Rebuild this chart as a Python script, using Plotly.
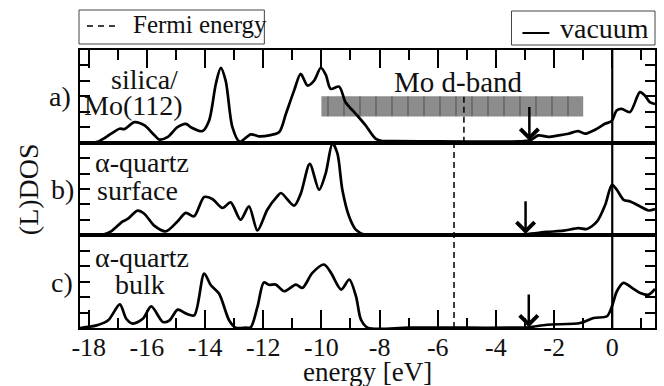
import plotly.graph_objects as go

# ---------------- data ----------------
energy_a = [-18.3, -17.9, -17.7, -17.45, -17.23, -16.94, -16.77, -16.43, -16.08, -15.8, -15.57, -15.28,
            -14.95, -14.66, -14.49, -14.09, -13.86, -13.63, -13.46, -13.29, -13.06, -12.81, -12.43,
            -12.15, -11.8, -11.45, -11.22, -10.94, -10.71, -10.48, -10.25, -10.02, -9.85, -9.68, -9.39,
            -9.17, -8.82, -8.48, -8.14, -7.91, -7.5, -6.0, -4.0, -3.2, -2.82, -2.54, -2.19, -1.85,
            -1.51, -1.17, -0.94, -0.59, -0.25, -0.02, 0.15, 0.32, 0.61, 0.95, 1.12, 1.29, 1.47]
dos_a = [0.0, 0.0, 0.05, 0.3, 0.58, 0.9, 0.88, 1.33, 1.12, 0.6, 0.2, 0.37,
         1.0, 1.22, 1.0, 0.75, 1.44, 3.8, 4.84, 4.0, 1.0, 0.05, 0.54,
         0.41, 0.47, 0.69, 1.87, 3.37, 4.45, 3.7, 4.02, 4.85, 4.4, 3.48, 3.63,
         2.62, 1.87, 1.12, 0.26, 0.11, 0.1, 0.08, 0.07, 0.08, 0.15, 0.47, 0.37, 0.47,
         0.58, 0.75, 0.58, 0.84, 1.22, 1.4, 2.08, 2.19, 1.98, 3.27, 3.05, 2.62, 2.5]

energy_b = [-18.3, -17.8, -17.5, -17.23, -16.83, -16.66, -16.32, -16.09, -15.75, -15.35, -14.95, -14.66,
            -14.38, -14.03, -13.75, -13.4, -13.12, -12.78, -12.49, -12.2, -11.86, -11.52, -11.39,
            -10.94, -10.71, -10.4, -10.08, -9.85, -9.62, -9.45, -9.28, -9.05, -8.82, -8.48, -8.0,
            -6.0, -4.0, -2.98, -2.24, -1.67, -1.16, -0.87, -0.52, -0.24, -0.01, 0.16, 0.39, 0.62,
            0.96, 1.25, 1.47]
dos_b = [0.0, 0.0, 0.05, 0.26, 0.9, 1.06, 1.6, 1.4, 0.63, 0.26, 0.9, 1.45,
         1.23, 2.48, 2.35, 1.77, 2.13, 1.01, 1.87, 0.32, 1.66, 2.52, 2.74,
         1.92, 2.7, 4.63, 2.95, 4.03, 5.95, 5.3, 2.95, 1.23, 0.37, 0.02, 0.02,
         0.02, 0.02, 0.08, 0.22, 0.3, 0.47, 0.41, 0.9, 1.98, 3.27, 2.95, 2.3, 2.19,
         1.87, 1.61, 1.7]

energy_c = [-18.3, -17.73, -17.33, -16.93, -16.71, -16.48, -16.14, -15.85, -15.45, -15.22, -14.94, -14.65,
            -14.37, -14.03, -13.8, -13.52, -13.17, -12.95, -12.6, -12.43, -12.2, -11.98, -11.8, -11.57,
            -11.28, -10.88, -10.65, -10.31, -9.91, -9.67, -9.32, -9.04, -8.81, -8.64, -8.41, -7.0,
            -5.0, -3.5, -2.87, -2.24, -1.1, -0.64, -0.18, -0.01, 0.16, 0.39, 0.68, 0.96, 1.25, 1.47]
dos_c = [0.0, 0.17, 0.5, 1.53, 0.6, 0.28, 0.6, 1.4, 0.39, 0.5, 1.19, 0.93,
         0.82, 3.53, 2.77, 2.23, 0.49, 0.02, 0.02, 0.04, 1.36, 2.95, 2.8, 2.81,
         2.38, 2.81, 2.6, 3.57, 4.11, 3.57, 2.49, 3.14, 2.05, 0.54, 0.02, 0.02,
         0.02, 0.02, 0.05, 0.21, 0.32, 0.65, 0.76, 1.4, 2.38, 2.92, 2.6, 2.27, 2.16, 2.53]

fermi_energy = [-5.1, -5.44]          # panel a ; panels b and c
vacuum_energy = 0.0
arrow_energy = [-2.85, -2.98, -2.87]  # panels a, b, c
mo_dband = [-10.0, -1.0]
mo_dband_dos = [1.7, 3.0]
tick_values = [-18, -16, -14, -12, -10, -8, -6, -4, -2, 0]
tick_labels = ["-18", "-16", "-14", "-12", "-10", "-8", "-6", "-4", "-2", "0"]
x_range = [-18.3, 1.47]
panel_labels = ["a)", "b)", "c)"]

# ---------------- layout helpers ----------------
L, R, T, B = 80, 657, 50, 328
W, H = R - L, B - T


def px(x):
    return (x - L) / W


def py(y):
    return (B - y) / H


SERIF = "Liberation Serif"
INK = "#111111"

fig = go.Figure()

# Mo d-band hatched box (panel a)
fig.add_trace(go.Scatter(
    x=[mo_dband[0], mo_dband[1], mo_dband[1], mo_dband[0], mo_dband[0]],
    y=[mo_dband_dos[0], mo_dband_dos[0], mo_dband_dos[1], mo_dband_dos[1], mo_dband_dos[0]],
    xaxis="x3", yaxis="y3", mode="lines", fill="toself",
    line=dict(width=0, color="rgba(0,0,0,0)"),
    fillcolor="#8c8c8c",
    fillpattern=dict(shape="|", size=16, solidity=0.08, fgcolor="#2a2a2a", bgcolor="#8c8c8c"),
    hoverinfo="skip", showlegend=False))

line_style = dict(color="black", width=2.7, shape="spline", smoothing=0.8)
fig.add_trace(go.Scatter(x=energy_a, y=dos_a, xaxis="x3", yaxis="y3", mode="lines",
                         line=line_style, showlegend=False))
fig.add_trace(go.Scatter(x=energy_b, y=dos_b, xaxis="x2", yaxis="y2", mode="lines",
                         line=line_style, showlegend=False))
fig.add_trace(go.Scatter(x=energy_c, y=dos_c, xaxis="x", yaxis="y", mode="lines",
                         line=line_style, showlegend=False))

axis_common = dict(showline=True, linewidth=2, linecolor="black", mirror=True,
                   showgrid=False, zeroline=False)
minor = dict(ticks="inside", ticklen=10, tickwidth=2, tickcolor="black",
             tickmode="linear", tick0=-18, dtick=1, showgrid=False)

yax = dict(range=[0, 6], dtick=1, tick0=0, ticks="inside", ticklen=10, tickwidth=2,
           tickcolor="black", showticklabels=False, showline=True, linewidth=2,
           linecolor="black", mirror="ticks", showgrid=False, zeroline=False)

fig.update_layout(
    width=664, height=386,
    margin=dict(l=L, r=664 - R, t=T, b=386 - B),
    paper_bgcolor="white", plot_bgcolor="white",
    font=dict(family=SERIF, color=INK, size=26),
    xaxis=dict(domain=[0, 1], anchor="y", range=x_range, tickmode="array",
               tickvals=tick_values, ticktext=tick_labels, ticks="inside",
               ticklen=18, tickwidth=2, tickcolor="black", minor=minor,
               ticklabelstandoff=-5,
               tickfont=dict(family=SERIF, size=26, color=INK), **axis_common),
    xaxis2=dict(domain=[0, 1], anchor="y2", matches="x", range=x_range,
                showticklabels=False, ticks="", **axis_common),
    xaxis3=dict(domain=[0, 1], anchor="y3", matches="x", range=x_range, side="top",
                tickmode="array", tickvals=tick_values, ticks="inside", ticklen=18,
                tickwidth=2, tickcolor="black", minor=minor, showticklabels=False,
                **axis_common),
    yaxis=dict(domain=[0, 1 / 3], anchor="x", **yax),
    yaxis2=dict(domain=[1 / 3, 2 / 3], anchor="x2", **yax),
    yaxis3=dict(domain=[2 / 3, 1], anchor="x3", **yax),
)

shapes = []
# vacuum level
shapes.append(dict(type="line", xref="x", yref="paper", x0=vacuum_energy, x1=vacuum_energy,
                   y0=0, y1=1, line=dict(color="black", width=2.2)))
# Fermi energy lines
shapes.append(dict(type="line", xref="x3", yref="y3", x0=fermi_energy[0], x1=fermi_energy[0],
                   y0=0, y1=mo_dband_dos[1], line=dict(color="black", width=1.5, dash="6px,4px")))
shapes.append(dict(type="line", xref="x", yref="paper", x0=fermi_energy[1], x1=fermi_energy[1],
                   y0=0, y1=2 / 3, line=dict(color="black", width=1.5, dash="6px,4px")))
# legend boxes
shapes.append(dict(type="rect", xref="paper", yref="paper", x0=px(79), x1=px(265),
                   y0=py(44), y1=py(10), line=dict(color="#444444", width=1), fillcolor="white"))
shapes.append(dict(type="line", xref="paper", yref="paper", x0=px(87), x1=px(116),
                   y0=py(26), y1=py(26), line=dict(color="black", width=1.5, dash="6px,5px")))
shapes.append(dict(type="rect", xref="paper", yref="paper", x0=px(513), x1=px(657),
                   y0=py(45), y1=py(11), line=dict(color="#444444", width=1), fillcolor="white"))
shapes.append(dict(type="line", xref="paper", yref="paper", x0=px(524), x1=px(551),
                   y0=py(33), y1=py(33), line=dict(color="black", width=2)))
fig.update_layout(shapes=shapes)

ann = []


def text(t, x, y, size=28, xanchor="center", angle=0):
    ann.append(dict(text=t, xref="paper", yref="paper", x=px(x), y=py(y), showarrow=False,
                    xanchor=xanchor, yanchor="middle", textangle=angle,
                    font=dict(family=SERIF, size=size, color=INK)))


text("Fermi energy", 131, 25, size=25, xanchor="left")
text("vacuum", 560, 28.5, size=28, xanchor="left")
text("silica/", 145, 79, size=28)
text("Mo(112)", 134, 105, size=28)
text(panel_labels[0], 60, 96, size=28)
text("α-quartz", 142, 162, size=28)
text("surface", 138, 190, size=28)
text(panel_labels[1], 62, 189, size=28)
text("α-quartz", 142, 257, size=28)
text("bulk", 140, 284, size=28)
text(panel_labels[2], 62, 282, size=28)
text("Mo d-band", 460, 82, size=29)
text("energy [eV]", 368, 372, size=27)
text("(L)DOS", 28, 189, size=28, angle=-90)

arrow_axes = [("x3", "y3", 2.4, 0.12), ("x2", "y2", 2.3, 0.08), ("x", "y", 2.27, 0.05)]
for e, (xa, ya, tail, tip) in zip(arrow_energy, arrow_axes):
    ann.append(dict(text="", x=e, y=tip, xref=xa, yref=ya, ax=e, ay=tail, axref=xa, ayref=ya,
                    showarrow=True, arrowhead=4, arrowsize=1.4, arrowwidth=2.5,
                    arrowcolor="black", standoff=0))

fig.update_layout(annotations=ann)

fig.write_html("out.html", config={"displayModeBar": False},
               post_script="document.body.style.margin='0px';")
